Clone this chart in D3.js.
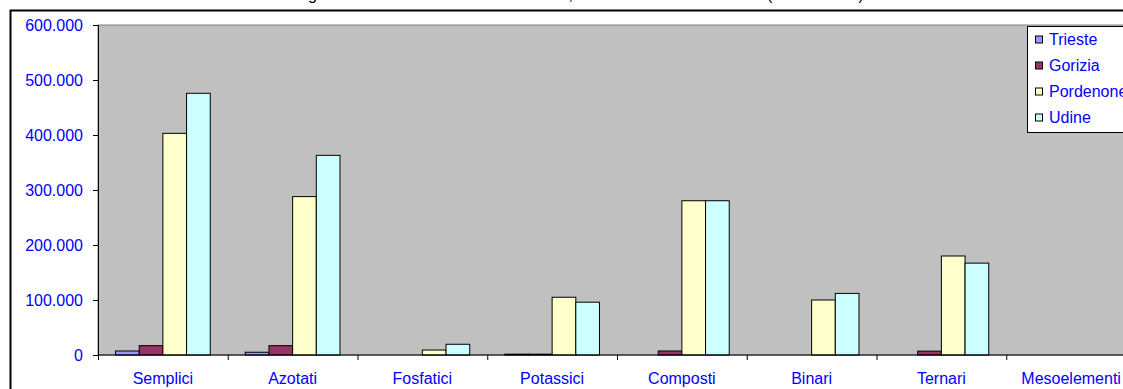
<!DOCTYPE html>
<html>
<head>
<meta charset="utf-8">
<script src="https://cdn.jsdelivr.net/npm/d3@7"></script>
<style>
  html, body { margin: 0; padding: 0; background: #fff; overflow: hidden; }
  svg { display: block; font-family: "Liberation Sans", Arial, sans-serif; }
</style>
</head>
<body>
<svg id="chart"></svg>
<script>
// Data (tonnellate)
const categories = ["Semplici", "Azotati", "Fosfatici", "Potassici", "Composti", "Binari", "Ternari", "Mesoelementi"];
const provinces = ["Trieste", "Gorizia", "Pordenone", "Udine"];
const trieste   = [7300, 5000, 0, 1500, 0, 0, 0, 0];
const gorizia   = [17000, 17000, 0, 1500, 7300, 0, 7000, 0];
const pordenone = [403000, 288000, 9000, 105000, 280500, 100000, 180000, 0];
const udine     = [475800, 363000, 19500, 96000, 280500, 112000, 167000, 0];
const yTicks = [0, 100000, 200000, 300000, 400000, 500000, 600000];
const colors = ["#9999ff", "#993366", "#ffffcc", "#ccffff"];
const titleText = "Fertilizzanti distribuiti nella regione autonoma Friuli Venezia Giulia, anno 2004 - totale vendite (in tonnellate)";

const seriesValues = [trieste, gorizia, pordenone, udine];
const rows = categories.map((c, i) => ({
  cat: c,
  values: provinces.map((p, j) => ({ prov: p, value: seriesValues[j][i] }))
}));

// Set up SVG dimensions
const W = 1160, H = 400;
const plot = { left: 98, top: 25, bottom: 355, right: 1136 };

const svg = d3.select("#chart")
    .attr("width", W)
    .attr("height", H);

// Italian number format
const it = d3.formatLocale({ decimal: ",", thousands: ".", grouping: [3], currency: ["", " €"] });
const fmt = it.format(",");

// Scales
const x = d3.scaleBand()
    .domain(categories)
    .range([plot.left, plot.right])
    .padding(0);

const groupW = x.bandwidth() * 0.73;
const x1 = d3.scaleBand()
    .domain(provinces)
    .range([0, groupW])
    .padding(0);

const y = d3.scaleLinear()
    .domain([0, 600000])
    .range([plot.bottom, plot.top]);

const color = d3.scaleOrdinal().domain(provinces).range(colors);

// Outer chart border
svg.append("rect")
    .attr("x", 10.5).attr("y", 10.5)
    .attr("width", W).attr("height", H)
    .attr("fill", "#fff")
    .attr("stroke", "#000")
    .attr("stroke-width", 2);

// Title (mostly cut off at the top, only descenders show)
const title = svg.append("text")
    .attr("x", 0)
    .attr("y", 0)
    .attr("font-size", 16)
    .attr("fill", "#000")
    .text(titleText);
// line the first "g" up with where it sits in the original
const gOffset = title.node().getSubStringLength(0, titleText.indexOf("g"));
title.attr("x", 308 - gOffset);

// Plot area
svg.append("rect")
    .attr("x", plot.left).attr("y", plot.top)
    .attr("width", plot.right - plot.left + 20)
    .attr("height", plot.bottom - plot.top)
    .attr("fill", "#c0c0c0")
    .attr("stroke", "#808080")
    .attr("stroke-width", 1);

// Bars
const groups = svg.append("g")
  .selectAll("g")
  .data(rows)
  .enter().append("g")
    .attr("transform", d => "translate(" + (x(d.cat) + (x.bandwidth() - groupW) / 2) + ",0)");

groups.selectAll("rect")
  .data(d => d.values.filter(v => v.value > 0))
  .enter().append("rect")
    .attr("x", d => x1(d.prov))
    .attr("y", d => y(d.value))
    .attr("width", x1.bandwidth())
    .attr("height", d => y(0) - y(d.value))
    .attr("fill", d => color(d.prov))
    .attr("stroke", "#000")
    .attr("stroke-width", 1);

// Y axis
const yAxis = svg.append("g")
    .attr("transform", "translate(" + plot.left + ",0)")
    .call(d3.axisLeft(y).tickValues(yTicks).tickFormat(fmt).tickSize(5).tickPadding(10));
yAxis.select(".domain").attr("stroke", "#000");
yAxis.selectAll("text")
    .attr("font-size", 16)
    .attr("font-family", "Liberation Sans, Arial, sans-serif")
    .attr("fill", "#0000ff");

// X axis
const xAxisG = svg.append("g")
    .attr("transform", "translate(0," + plot.bottom + ")");
xAxisG.append("line")
    .attr("x1", plot.left).attr("x2", W)
    .attr("stroke", "#000");
xAxisG.selectAll(".tick")
  .data(categories)
  .enter().append("line")
    .attr("x1", d => x(d) + 0.5).attr("x2", d => x(d) + 0.5)
    .attr("y1", 0).attr("y2", 5)
    .attr("stroke", "#000");
xAxisG.selectAll(".label")
  .data(categories)
  .enter().append("text")
    .attr("x", d => x(d) + x.bandwidth() / 2)
    .attr("y", 28.5)
    .attr("text-anchor", "middle")
    .attr("font-size", 16)
    .attr("fill", "#0000ff")
    .text(d => d);

// Legend
const legend = svg.append("g");
legend.append("rect")
    .attr("x", 1027.5).attr("y", 26.5)
    .attr("width", 140).attr("height", 106)
    .attr("fill", "#fff")
    .attr("stroke", "#000");

const item = legend.selectAll(".item")
  .data(provinces)
  .enter().append("g")
    .attr("transform", (d, i) => "translate(1035," + (39.5 + i * 26) + ")");
item.append("rect")
    .attr("x", 0.5).attr("y", -3.5)
    .attr("width", 7).attr("height", 7)
    .attr("fill", d => color(d))
    .attr("stroke", "#000");
item.append("text")
    .attr("x", 14)
    .attr("y", 0)
    .attr("dy", "0.35em")
    .attr("font-size", 16)
    .attr("fill", "#0000ff")
    .text(d => d);
</script>
</body>
</html>
